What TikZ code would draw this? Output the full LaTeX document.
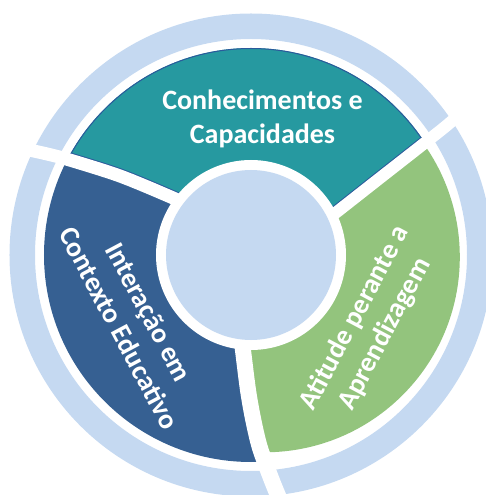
\documentclass[tikz,border=0pt]{standalone}
\usepackage{fontspec}
\setmainfont{Carlito}
\definecolor{ringblue}{HTML}{C5D9F1}
\definecolor{tealseg}{HTML}{2699A0}
\definecolor{blueseg}{HTML}{366092}
\definecolor{greenseg}{HTML}{93C47D}
\definecolor{tealedge}{HTML}{2B5A9B}
\tikzset{
  lbl/.style={text=white, font=\bfseries\fontsize{28}{34}\selectfont, align=center, inner sep=0pt},
  gapline/.style={draw=white, line width=#1}
}
\begin{document}
\begin{tikzpicture}[x=1pt,y=1pt]
\useasboundingbox (-251,-240) rectangle (235,255);
\clip (-251,-240) rectangle (235,255);
% outer ring
\fill[ringblue, even odd rule] (0,0) circle (241.5) (0,0) circle (216);
% teal segment
\begin{scope}
  \clip (0,0) circle (207);
  \fill[tealseg] (0,0) -- plot[smooth] coordinates {(-55,46) (-79,57.5) (-131,79) (-183,95.5) (-206,101.5) (-236,108) (-265,114)} -- (-300,300) -- (300,300) -- plot[smooth] coordinates {(240,170) (201,134) (173,111.5) (129,77) (87.4,44.3) (70,31)} -- cycle;
\end{scope}
% blue segment
\begin{scope}
  \clip (0,0) circle (207);
  \fill[blueseg] (0,0) -- plot[smooth] coordinates {(-55,46) (-79,57.5) (-131,79) (-183,95.5) (-206,101.5) (-236,108) (-265,114)} -- (-300,120) -- (-300,-300) -- (45,-300) -- plot[smooth] coordinates {(40,-270) (31,-250) (20.7,-225) (9,-193) (2.3,-165) (-3,-135) (-8.5,-91.5) (-11,-75)} -- cycle;
\end{scope}
% green segment
\begin{scope}
  \clip (13.5,-2) circle (195.3);
  \fill[greenseg] (0,0) -- plot[smooth] coordinates {(70,31) (87.4,44.3) (129,77) (173,111.5) (201,134) (240,170)} -- (300,170) -- (300,-300) -- (45,-300) -- plot[smooth] coordinates {(40,-270) (31,-250) (20.7,-225) (9,-193) (2.3,-165) (-3,-135) (-8.5,-91.5) (-11,-75)} -- cycle;
\end{scope}
% teal thin border
\begin{scope}
  \clip (0,0) -- plot[smooth] coordinates {(-55,46) (-79,57.5) (-131,79) (-183,95.5) (-206,101.5) (-236,108) (-265,114)} -- (-300,300) -- (300,300) -- plot[smooth] coordinates {(240,170) (201,134) (173,111.5) (129,77) (87.4,44.3) (70,31)} -- cycle;
  \clip (0,0) circle (207);
  \draw[tealedge, line width=15] plot[smooth] coordinates {(-55,46) (-79,57.5) (-131,79) (-183,95.5) (-206,101.5) (-236,108) (-265,114)};
  \draw[tealedge, line width=14] plot[smooth] coordinates {(70,31) (87.4,44.3) (129,77) (173,111.5) (201,134) (240,170)};
  \draw[tealedge, line width=2] (0,0) circle (207);
\end{scope}
% white gaps
\draw[gapline=13] plot[smooth] coordinates {(-55,46) (-79,57.5) (-131,79) (-183,95.5) (-206,101.5) (-236,108) (-265,114)};
\draw[gapline=12] plot[smooth] coordinates {(70,31) (87.4,44.3) (129,77) (173,111.5) (201,134) (240,170)};
\draw[gapline=16] plot[smooth] coordinates {(-11,-75) (-8.5,-91.5) (-3,-135) (2.3,-165) (9,-193) (20.7,-225) (31,-250) (40,-270)};
% centre
\fill[white] (0,0) circle (95);
\fill[ringblue] (0,0) circle (85);
% labels
\node[lbl] (t1) at (11.5,136) {Conhecimentos e\\Capacidades};
\node[lbl, rotate=-62] (t2) at (-117,-65) {Interação em\\Contexto Educativo};
\node[lbl, rotate=62] (t3) at (119,-71) {Atitude perante a\\Aprendizagem};
\end{tikzpicture}
\end{document}
